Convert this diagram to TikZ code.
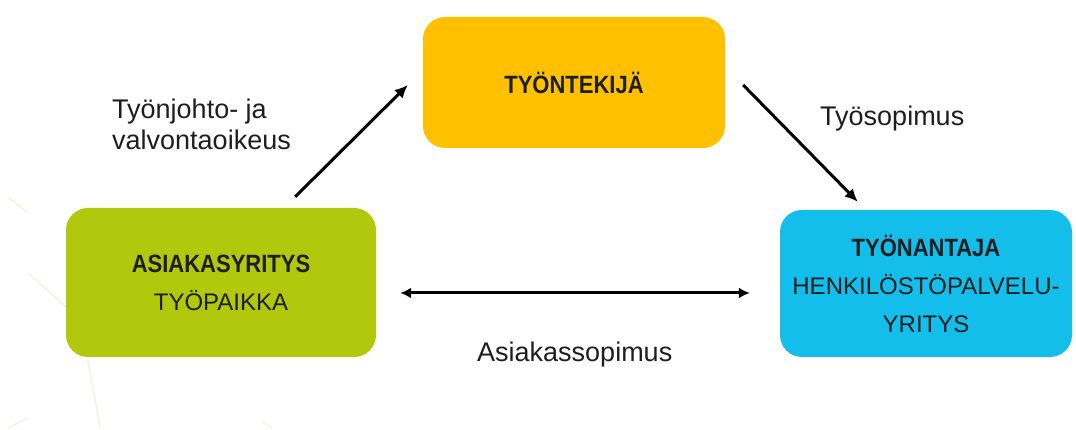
\documentclass[tikz,border=0pt]{standalone}
\usepackage{fontspec}
\setmainfont{Liberation Sans}
\newfontfamily\narrowfont[FakeStretch=0.88]{Liberation Sans}
\usepackage{tikz}
\usetikzlibrary{arrows.meta,calc}
\definecolor{limegreen}{RGB}{178,200,12}
\definecolor{ambergold}{RGB}{255,192,0}
\definecolor{skyblue}{RGB}{20,190,234}
\definecolor{faintline}{RGB}{240,243,224}
\definecolor{inkgrey}{RGB}{30,30,30}

\begin{document}
\begin{tikzpicture}[x=1pt,y=1pt,
  party/.style={rounded corners=22pt,inner sep=0pt,align=center,text=inkgrey,
    font=\fontsize{24}{38}\selectfont},
  label/.style={inner sep=0pt,align=left,text=inkgrey,font=\fontsize{27}{31}\selectfont},
  link/.style={line width=3pt,-{Latex[length=13pt,width=12pt]}}]
\useasboundingbox (0,0) rectangle (1076,430);
% faint background strokes
\draw[faintline,line width=1.5pt] (8,233) -- (28,217);
\draw[faintline,line width=1.5pt] (28,157) -- (66,123);
\draw[faintline,line width=1.5pt] (88,70) -- (100,3);
\draw[faintline,line width=1.5pt] (8,2) -- (28,12);
\draw[faintline,line width=1.5pt] (262,8) -- (272,2);
% the three parties
\node[party,fill=limegreen,minimum width=310pt,minimum height=149pt] (asiakas) at (221,147.5)
  {{\narrowfont\fontsize{25}{38}\selectfont\bfseries ASIAKASYRITYS}\\TYÖPAIKKA};
\node[party,fill=ambergold,minimum width=302pt,minimum height=131pt] (tyontekija) at (574,347.5)
  {{\narrowfont\fontsize{25}{38}\selectfont\bfseries TYÖNTEKIJÄ}};
\node[party,fill=skyblue,minimum width=292pt,minimum height=147pt] (tyonantaja) at (926,146.5)
  {{\narrowfont\fontsize{25}{38}\selectfont\bfseries TYÖNANTAJA}\\HENKILÖSTÖPALVELU-\\YRITYS};
% relations
\draw[link] ([xshift=-81pt,yshift=11pt]asiakas.north east) -- ([xshift=-15pt,yshift=-2.5pt]tyontekija.west);
\draw[link] ([xshift=18pt,yshift=-2.5pt]tyontekija.east) -- ([xshift=78pt,yshift=8pt]tyonantaja.north west);
\draw[line width=3pt,{Latex[length=11pt,width=11pt]}-{Latex[length=11pt,width=11pt]}]
  ([xshift=24pt,yshift=-10.5pt]asiakas.east) -- ([xshift=-30pt,yshift=-9.5pt]tyonantaja.west);
\node[label,anchor=north west] (johto) at (112,331) {Työnjohto- ja\\valvontaoikeus};
\node[label,anchor=base west] (sopimus) at (820,304) {Työsopimus};
\node[label,anchor=base west] (asiakassop) at (477,68) {Asiakassopimus};
\end{tikzpicture}
\end{document}
